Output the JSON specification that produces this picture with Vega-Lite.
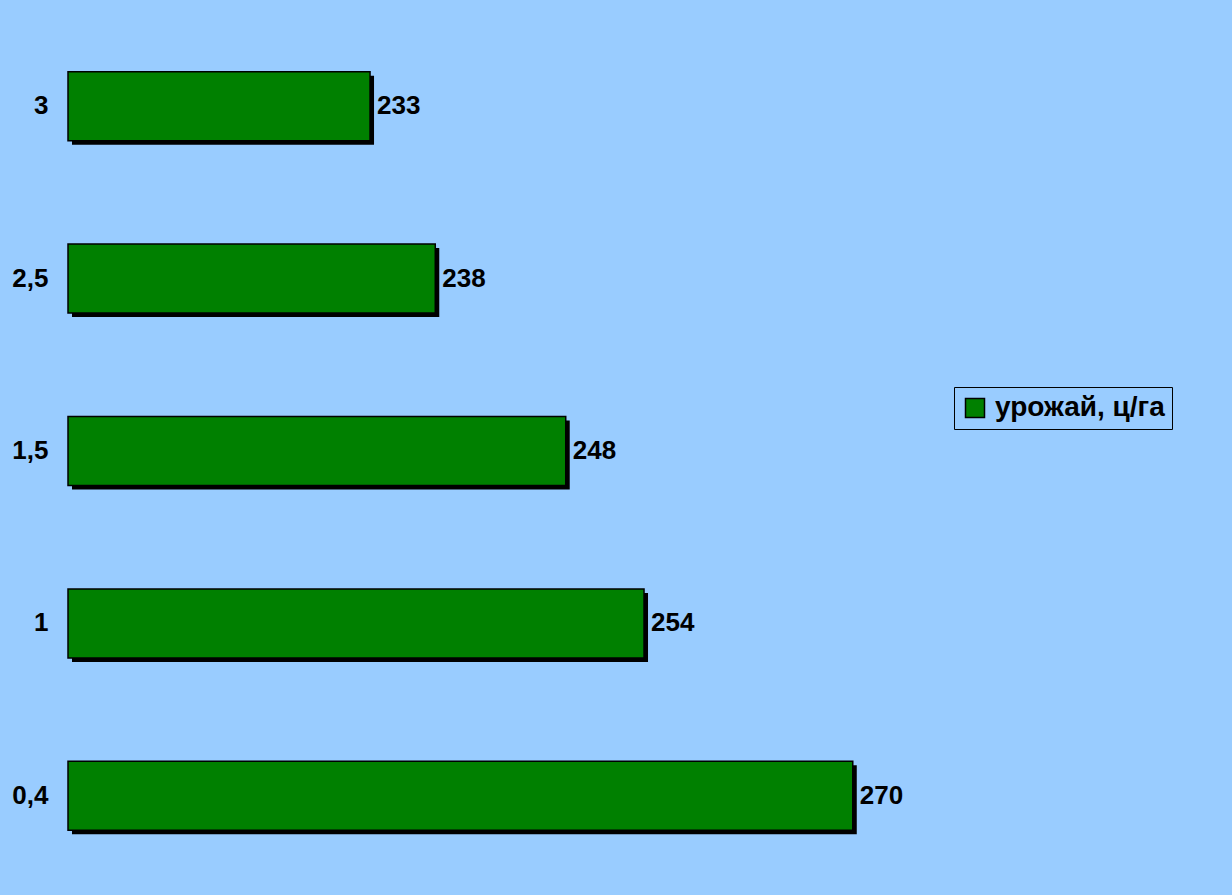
{
  "$schema": "https://vega.github.io/schema/vega-lite/v6.json",
  "width": 850,
  "height": 862,
  "autosize": {"type": "none"},
  "padding": {"left": 68, "top": 20, "right": 314, "bottom": 13},
  "background": "#99CCFF",
  "config": {
    "view": {"stroke": null},
    "font": "Liberation Sans"
  },
  "data": {
    "values": [
      {"doza": "3", "urozhay": 233, "series": "урожай, ц/га"},
      {"doza": "2,5", "urozhay": 238, "series": "урожай, ц/га"},
      {"doza": "1,5", "urozhay": 248, "series": "урожай, ц/га"},
      {"doza": "1", "urozhay": 254, "series": "урожай, ц/га"},
      {"doza": "0,4", "urozhay": 270, "series": "урожай, ц/га"}
    ]
  },
  "encoding": {
    "y": {
      "field": "doza",
      "type": "nominal",
      "sort": ["3", "2,5", "1,5", "1", "0,4"],
      "scale": {"paddingInner": 0.6, "paddingOuter": 0.3},
      "axis": {
        "title": null,
        "domain": false,
        "ticks": false,
        "labelPadding": 20,
        "labelFont": "Liberation Sans",
        "labelFontWeight": "bold",
        "labelFontSize": 26,
        "labelColor": "black"
      }
    }
  },
  "layer": [
    {
      "mark": {"type": "bar", "color": "black", "xOffset": 4, "x2Offset": 4, "yOffset": 4, "y2Offset": 4},
      "encoding": {
        "x": {"field": "urozhay", "type": "quantitative", "scale": {"domain": [209.85, 275], "zero": false, "nice": false}, "axis": null},
        "x2": {"datum": 209.85}
      }
    },
    {
      "mark": {"type": "bar", "stroke": "black", "strokeWidth": 1.5},
      "encoding": {
        "x": {"field": "urozhay", "type": "quantitative", "axis": null},
        "x2": {"datum": 209.85},
        "color": {
          "field": "series",
          "type": "nominal",
          "scale": {"range": ["#008000"]},
          "legend": {
            "title": null,
            "orient": "none",
            "legendX": 886,
            "legendY": 367,
            "direction": "vertical",
            "strokeColor": "black",
            "fillColor": "#99CCFF",
            "padding": 7,
            "symbolType": "square",
            "symbolSize": 361,
            "symbolStrokeColor": "black",
            "symbolStrokeWidth": 1.5,
            "symbolOpacity": 1,
            "labelFont": "Liberation Sans",
            "labelFontWeight": "bold",
            "labelFontSize": 28,
            "labelColor": "black",
            "labelOffset": 6,
            "labelLimit": 400
          }
        }
      }
    },
    {
      "mark": {"type": "text", "align": "left", "baseline": "middle", "dx": 7, "font": "Liberation Sans", "fontWeight": "bold", "fontSize": 26, "color": "black"},
      "encoding": {
        "x": {"field": "urozhay", "type": "quantitative"},
        "text": {"field": "urozhay", "type": "quantitative"}
      }
    }
  ]
}
